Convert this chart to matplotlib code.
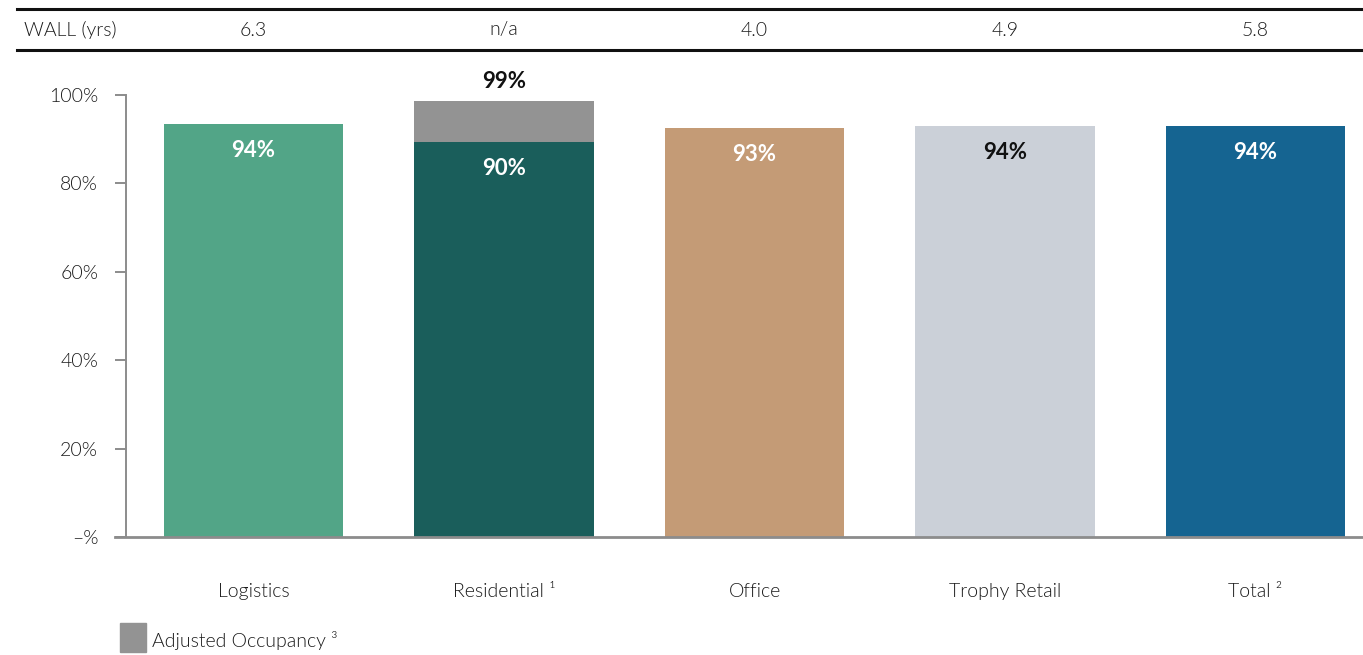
import matplotlib

matplotlib.use("Agg")
import matplotlib.pyplot as plt
from matplotlib.patches import Rectangle
from matplotlib.lines import Line2D
from matplotlib import font_manager

categories = ["Logistics", "Residential \u00b9", "Office", "Trophy Retail", "Total \u00b2"]
occupancy = [93.4, 89.4, 92.5, 93.0, 93.0]
occupancy_labels = ["94%", "90%", "93%", "94%", "94%"]
adjusted_occupancy = [None, 98.6, None, None, None]
adjusted_labels = [None, "99%", None, None, None]
wall_years = ["6.3", "n/a", "4.0", "4.9", "5.8"]
y_ticks = [0, 20, 40, 60, 80, 100]
y_tick_labels = ["\u2013%", "20%", "40%", "60%", "80%", "100%"]

bar_colors = ["#52a587", "#1a5e5b", "#c49b76", "#cbd0d8", "#156491"]
label_colors = ["white", "white", "white", "#111111", "white"]
ADJ_COLOR = "#939393"
AXIS_COLOR = "#8c8c8c"
TEXT_COLOR = "#1a1a1a"

names = {f.name for f in font_manager.fontManager.ttflist}
FAMILY = "Lato" if "Lato" in names else "DejaVu Sans"
plt.rcParams["font.family"] = [FAMILY, "DejaVu Sans"]
plt.rcParams["font.weight"] = 300

W, H = 1363, 655
fig = plt.figure(figsize=(W / 100, H / 100), dpi=100)


def fx(px):
    return px / W


def fy(py):
    return 1 - py / H


ax = fig.add_axes([fx(126), fy(537), fx(W - 126), fy(95) - fy(537)])

x = list(range(len(categories)))
ax.bar(x, occupancy, width=0.715, color=bar_colors, zorder=2)
for i, (v, lab, c) in enumerate(zip(occupancy, occupancy_labels, label_colors)):
    ax.text(i, v - 6, lab, ha="center", va="center", color=c,
            fontsize=16, fontweight="bold")
    adj = adjusted_occupancy[i]
    if adj is not None:
        ax.bar(i, adj - v, bottom=v, width=0.715, color=ADJ_COLOR, zorder=2)
        ax.text(i, adj + 4.5, adjusted_labels[i], ha="center", va="center",
                color="#111111", fontsize=16, fontweight="bold", clip_on=False)

ax.set_xlim(-0.509, 4.429)
ax.set_ylim(0, 100)
ax.set_yticks(y_ticks)
ax.set_yticklabels(y_tick_labels)
ax.set_xticks(x)
ax.set_xticklabels(categories)
ax.tick_params(axis="y", length=8, width=1.4, color=AXIS_COLOR, pad=12,
               labelsize=14, labelcolor=TEXT_COLOR)
ax.tick_params(axis="x", length=0, pad=33, labelsize=14, labelcolor=TEXT_COLOR)
for side in ["top", "right"]:
    ax.spines[side].set_visible(False)
ax.spines["left"].set_color(AXIS_COLOR)
ax.spines["left"].set_linewidth(1.4)
ax.spines["bottom"].set_color(AXIS_COLOR)
ax.spines["bottom"].set_linewidth(2)
ax.spines["bottom"].set_bounds(-0.509 - 11 / 250.5, 4.429)
ax.spines["bottom"].set_clip_on(False)

# WALL header row
for py in (9, 50):
    fig.add_artist(Line2D([fx(17), 1], [fy(py), fy(py)], color="#111111", lw=2.2))
fig.text(fx(24), fy(30), "WALL (yrs)", ha="left", va="center",
         fontsize=14, color=TEXT_COLOR)
trans = matplotlib.transforms.blended_transform_factory(ax.transData, fig.transFigure)
for i, w in enumerate(wall_years):
    ax.text(i, fy(30), w, transform=trans, ha="center", va="center",
            fontsize=14, color=TEXT_COLOR, clip_on=False)

# legend
fig.add_artist(Rectangle((fx(120), fy(652)), fx(26), fy(623) - fy(652),
                         color=ADJ_COLOR, transform=fig.transFigure))
fig.text(fx(152), fy(641), "Adjusted Occupancy \u00b3", ha="left", va="center",
         fontsize=14, color=TEXT_COLOR)

fig.savefig("out.png", dpi=100)
